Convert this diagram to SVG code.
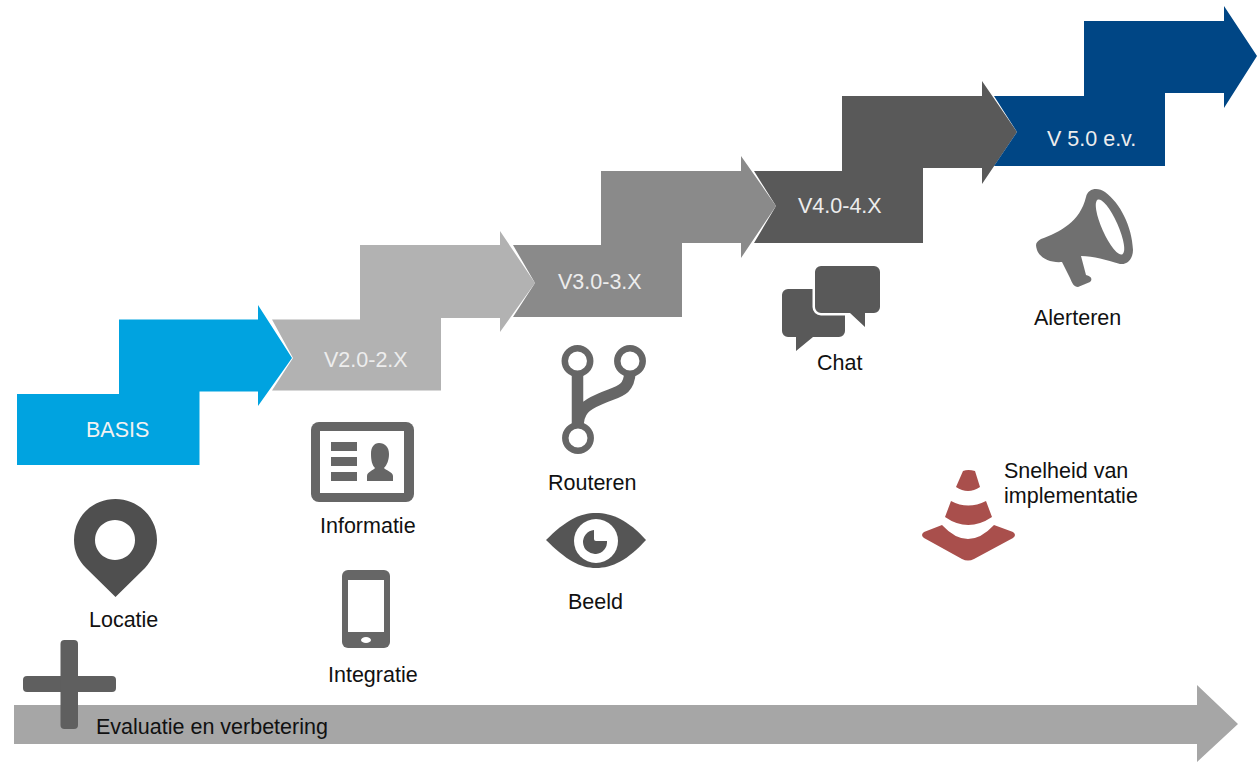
<svg xmlns="http://www.w3.org/2000/svg" width="1258" height="762" viewBox="0 0 1258 762">
<style>
text{font-family:"Liberation Sans",Arial,sans-serif;font-size:21.5px;fill:#111}
.v{fill:#ededed;text-anchor:start}
.k{fill:#666}
.w{fill:#fff}
</style>
<rect width="1258" height="762" fill="#fff"/>
<g id="step-basis"><path fill="#00a3e0" d="M17,394H119V319.500H258V305L292,358L258,406V391.500H199.500V465H17Z"/><text class="v" x="86" y="437" style="fill:#f2f2f2">BASIS</text></g>
<g id="step-v2"><path fill="#b2b2b2" d="M272,319.500H360V245H500V231L535,283L500,332V318H441V390.500H272L293,358Z"/><text class="v" x="324" y="367">V2.0-2.X</text></g>
<g id="step-v3"><path fill="#8a8a8a" d="M513,245H601V171H741V156L776,206L741,258V243H682V317H513L535,283Z"/><text class="v" x="558" y="289">V3.0-3.X</text></g>
<g id="step-v4"><path fill="#595959" d="M754,171H842V96H982V81L1017,132L982,184V168H923V243H754L776,206Z"/><text class="v" x="798" y="213">V4.0-4.X</text></g>
<g id="step-v5"><path fill="#004685" d="M994,96H1084V21H1224V6L1257,56L1224,108V93H1165V166H994L1017,132Z"/><text class="v" x="1047" y="146">V 5.0 e.v.</text></g>
<g id="evaluatie">
<path fill="#a6a6a6" d="M14,705H1197V685L1238,724L1197,762V744H14Z"/>
<rect x="23" y="676" width="93" height="16" rx="4" fill="#5f5f5f"/><rect x="60.500" y="640" width="17.500" height="89" rx="4" fill="#5f5f5f"/>
<text x="96" y="734">Evaluatie en verbetering</text></g>
<g id="locatie"><path fill="#4f4f4f" fill-rule="evenodd" d="M115.500,597L86,568C78,560 74,551 74,540C74,517 92,499 115.500,499C138,499 157,517 157,540C157,551 152,560 145,568ZM115,520a20,20 0 1 0 .01,0Z"/><text x="89" y="627">Locatie</text></g>
<g id="informatie"><rect class="k" x="311" y="422" width="103" height="80" rx="8"/><rect class="w" x="320" y="431" width="84" height="62"/>
<path class="k" d="M331,442h26v9h-26zM331,457h26v9h-26zM331,472h26v9h-26zM367,481v-5c0,-4 7,-6 8,-8c-3,-3 -4,-8 -4,-14c0,-7 3,-11 8,-11c6,0 10,4 10,11c0,6 -2,11 -5,14c1,2 9,4 9,8v5z"/><text x="320" y="533">Informatie</text></g>
<g id="integratie"><rect class="k" x="342" y="570" width="48" height="78" rx="6"/><rect class="w" x="348" y="580" width="36" height="52"/><ellipse class="w" cx="366" cy="640" rx="5" ry="3"/><text x="328" y="682">Integratie</text></g>
<g id="routeren"><g fill="none" stroke="#666"><circle cx="577.500" cy="361" r="12.700" stroke-width="6.500"/><circle cx="630" cy="361" r="12.700" stroke-width="6.500"/><circle cx="578" cy="438" r="12.700" stroke-width="6.500"/><path stroke-width="11.500" d="M577.500,372V427M630,372C629,392 618,391 600,399C586,405 578,410 578,427"/></g><text x="548" y="490">Routeren</text></g>
<g id="beeld"><path fill="#555" d="M546,540C566,520 580,513 596,513C612,513 628,520 646,540C628,560 612,568 596,568C580,568 566,560 546,540Z"/><circle class="w" cx="596" cy="541" r="22"/><path fill="#555" d="M594,530a12,12 0 1 0 13,11h-11a2,2 0 0 1 -2,-2Z"/><text x="568" y="609">Beeld</text></g>
<g id="chat"><path fill="#595959" d="M788,289H839a6,6 0 0 1 6,6V331a6,6 0 0 1 -6,6H813L796,351V337H788a6,6 0 0 1 -6,-6V295a6,6 0 0 1 6,-6Z"/><path fill="#595959" stroke="#fff" stroke-width="5" paint-order="stroke" d="M821,266H874a6,6 0 0 1 6,6V307a6,6 0 0 1 -6,6H865V327L850,313H821a6,6 0 0 1 -6,-6V272a6,6 0 0 1 6,-6Z"/><text x="817" y="370">Chat</text></g>
<g id="alerteren"><path fill="#707070" d="M1086,197C1088,188 1098,187 1105,192C1120,203 1132,226 1133,250C1133,258 1128,265 1120,264C1106,260 1094,256 1081,256L1086,275C1091,276 1093,279 1090,282L1078,287C1074,287 1072,283 1070,278L1062,262C1050,263 1040,258 1037,250C1035,244 1036,242 1041,239C1060,232 1080,222 1086,197Z"/><ellipse class="w" cx="1110" cy="227" rx="8" ry="30" transform="rotate(-24 1110 227)"/><text x="1034" y="325">Alerteren</text></g>
<g id="snelheid"><path fill="#a94f4c" d="M963,471Q968,469 975,471L980,487Q968,495 956,487ZM951,501Q968,510 986,501L992,517Q968,533 945,517ZM942,525Q968,553 994,525L1013,532Q1017,535 1013,538L974,559Q968,562 962,559L924,538Q920,535 924,532Z"/><text x="1004" y="478">Snelheid van</text><text x="1004" y="503">implementatie</text></g>
</svg>
